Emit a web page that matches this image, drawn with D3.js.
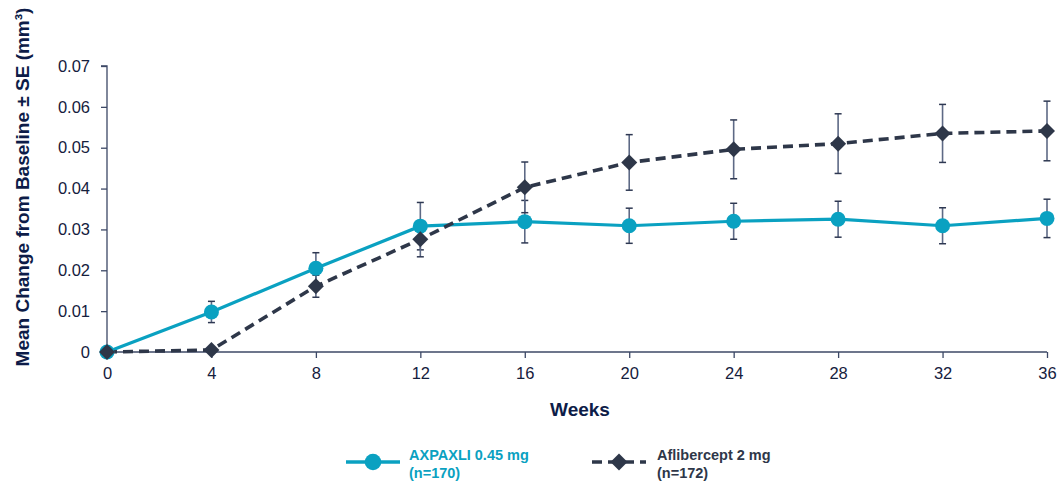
<!DOCTYPE html>
<html>
<head>
<meta charset="utf-8">
<script src="https://cdn.jsdelivr.net/npm/d3@7"></script>
<style>
  html, body { margin: 0; padding: 0; background: #ffffff; }
  svg { display: block; font-family: "Liberation Sans", Arial, sans-serif; }
</style>
</head>
<body>
<svg id="chart" width="1063" height="486"></svg>
<script>
// ---- data ----
const weeks = [0, 4, 8, 12, 16, 20, 24, 28, 32, 36];
const axpaxliMean = [0, 0.0098, 0.0205, 0.0308, 0.0319, 0.0309, 0.0320, 0.0325, 0.0309, 0.0327];
const axpaxliSE   = [0, 0.0026, 0.0038, 0.0058, 0.0052, 0.0043, 0.0044, 0.0044, 0.0044, 0.0047];
const afliMean    = [0, 0.0005, 0.0161, 0.0276, 0.0403, 0.0464, 0.0496, 0.0510, 0.0535, 0.0541];
const afliSE      = [0, 0.0003, 0.0027, 0.0043, 0.0062, 0.0068, 0.0072, 0.0073, 0.0071, 0.0073];
const yTicks = [0, 0.01, 0.02, 0.03, 0.04, 0.05, 0.06, 0.07];
const yTickLabels = ["0", "0.01", "0.02", "0.03", "0.04", "0.05", "0.06", "0.07"];
const xTicks = [0, 4, 8, 12, 16, 20, 24, 28, 32, 36];
const seriesNames = ["AXPAXLI 0.45 mg", "Aflibercept 2 mg"];
const seriesN = ["(n=170)", "(n=172)"];

// ---- styles ----
const tealColor = "#0aa1c1";
const darkColor = "#2e3749";
const axisColor = "#3c4866";
const errColor = "#5d6985";
const textColor = "#15203d";
const titleColor = "#0d1c48";

const svg = d3.select("#chart");
const x = d3.scaleLinear().domain([0, 36]).range([107, 1047]);
const y = d3.scaleLinear().domain([0, 0.07]).range([352, 66]);

// ---- axes ----
const yAxis = d3.axisLeft(y).tickValues(yTicks)
  .tickFormat((d, i) => yTickLabels[i]).tickSize(6).tickPadding(11);
const gy = svg.append("g").attr("transform", `translate(${x(0)},0)`).call(yAxis);
const xAxis = d3.axisBottom(x).tickValues(xTicks).tickSize(6).tickPadding(9);
const gx = svg.append("g").attr("transform", `translate(0,${y(0)})`).call(xAxis);
[gx, gy].forEach(g => {
  g.select(".domain").attr("stroke", axisColor).attr("stroke-width", 1.3);
  g.selectAll(".tick line").attr("stroke", axisColor).attr("stroke-width", 1.3);
  g.selectAll(".tick text").attr("fill", textColor)
    .style("font-size", "16.5px").style("font-family", "'Liberation Sans', Arial, sans-serif");
});
gy.select(".domain").attr("d", `M-6,${y(0.07)}H0V${y(0)}`);
gx.select(".domain").attr("d", `M${x(0)},0H${x(36)}`);

// ---- axis titles ----
svg.append("text")
  .attr("transform", `translate(29,187) rotate(-90)`)
  .attr("text-anchor", "middle")
  .attr("fill", titleColor)
  .style("font-size", "19px").style("font-weight", "bold")
  .text("Mean Change from Baseline ± SE (mm³)");

svg.append("text")
  .attr("x", 580).attr("y", 416)
  .attr("text-anchor", "middle")
  .attr("fill", titleColor)
  .style("font-size", "19px").style("font-weight", "bold")
  .text("Weeks");

// ---- series ----
const series = [
  { mean: axpaxliMean, se: axpaxliSE, color: tealColor, dash: null, marker: "circle" },
  { mean: afliMean, se: afliSE, color: darkColor, dash: "10,6", marker: "diamond" }
];

// error bars
series.forEach(s => {
  const g = svg.append("g");
  weeks.forEach((w, i) => {
    if (s.se[i] <= 0.0004) return;
    const cx = x(w), y1 = y(s.mean[i] + s.se[i]), y2 = y(s.mean[i] - s.se[i]);
    g.append("line").attr("x1", cx).attr("x2", cx).attr("y1", y1).attr("y2", y2)
      .attr("stroke", errColor).attr("stroke-width", 1.6);
    [y1, y2].forEach(yy => g.append("line")
      .attr("x1", cx - 3.5).attr("x2", cx + 3.5).attr("y1", yy).attr("y2", yy)
      .attr("stroke", "#2e3852").attr("stroke-width", 1.5));
  });
});

// lines
const lineGen = d3.line().x((d, i) => x(weeks[i])).y(d => y(d));
series.forEach(s => {
  svg.append("path").datum(s.mean)
    .attr("d", lineGen)
    .attr("fill", "none")
    .attr("stroke", s.color)
    .attr("stroke-width", s.dash ? 3.6 : 3.2)
    .attr("stroke-dasharray", s.dash);
});

// markers
const diamondPath = r => `M0,${-r}L${r},0L0,${r}L${-r},0Z`;
series.forEach(s => {
  const g = svg.append("g");
  weeks.forEach((w, i) => {
    if (s.marker === "circle") {
      g.append("circle").attr("cx", x(w)).attr("cy", y(s.mean[i])).attr("r", 7.5).attr("fill", s.color);
    } else {
      g.append("path").attr("d", diamondPath(8))
        .attr("transform", `translate(${x(w)},${y(s.mean[i])})`).attr("fill", s.color);
    }
  });
});

// ---- legend ----
const legendY = 462;
const leg = [
  { x0: 346, x1: 400, cx: 373, tx: 409, color: tealColor, dash: null, marker: "circle" },
  { x0: 592, x1: 646, cx: 619, tx: 657, color: darkColor, dash: "10,6", marker: "diamond" }
];
leg.forEach((l, i) => {
  svg.append("line").attr("x1", l.x0).attr("x2", l.x1).attr("y1", legendY).attr("y2", legendY)
    .attr("stroke", l.color).attr("stroke-width", 3.6).attr("stroke-dasharray", l.dash);
  if (l.marker === "circle") {
    svg.append("circle").attr("cx", l.cx).attr("cy", legendY).attr("r", 8.3).attr("fill", l.color);
  } else {
    svg.append("path").attr("d", diamondPath(8.5))
      .attr("transform", `translate(${l.cx},${legendY})`).attr("fill", l.color);
  }
  const t = svg.append("text").attr("x", l.tx).attr("y", 460)
    .attr("fill", l.color).style("font-size", "14.5px").style("font-weight", "bold");
  t.append("tspan").attr("x", l.tx).attr("y", 460).text(seriesNames[i]);
  t.append("tspan").attr("x", l.tx).attr("y", 478).text(seriesN[i]);
});
</script>
</body>
</html>
